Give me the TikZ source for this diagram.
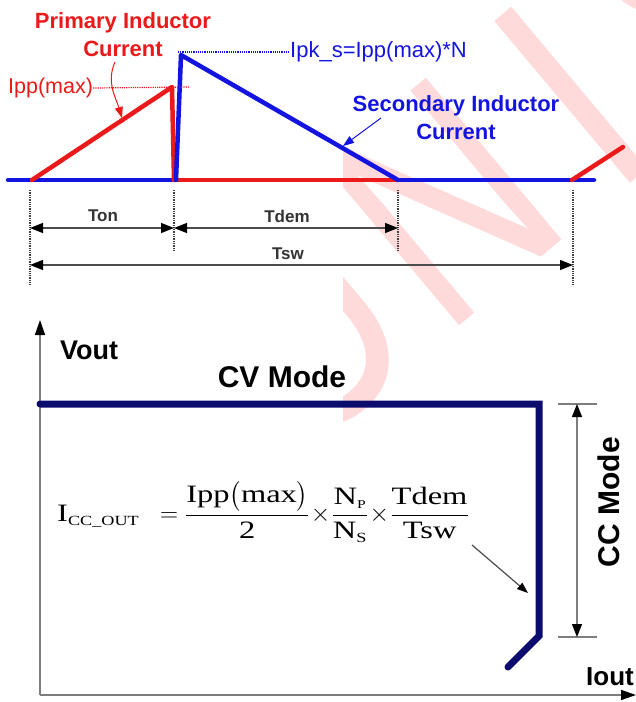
\RequirePackage{fix-cm}
\documentclass[tikz,border=0pt]{standalone}
\usepackage{amsmath}
\usepackage{fontspec}
\setmainfont{Liberation Sans}
\newfontfamily\formfont[FakeStretch=1.3]{Liberation Serif}
\newfontfamily\markfont[FakeStretch=0.78]{Liberation Sans}
\usetikzlibrary{calc, positioning}
\usetikzlibrary{arrows.meta}

\definecolor{pcur}{RGB}{235,25,25}
\definecolor{scur}{RGB}{20,20,225}
\definecolor{cvline}{RGB}{12,12,110}
\definecolor{axisgray}{RGB}{125,125,125}
\definecolor{markpink}{RGB}{255,218,218}

\begin{document}
\begin{tikzpicture}[x=1pt, y=-1pt,
  wave/.style={line width=4.5pt, line cap=round, line join=round},
  guide/.style={densely dotted, line width=1.3pt, black!75},
  dimline/.style={line width=1.4pt, draw=black!70,
    {Triangle[length=13pt,width=10pt,black]}-{Triangle[length=13pt,width=10pt,black]}},
  lbl/.style={inner sep=0pt, font=\bfseries\fontsize{22}{28}\selectfont, align=center},
  dimlbl/.style={inner sep=0pt, font=\bfseries\fontsize{17}{20}\selectfont, text=black!80},
  biglbl/.style={inner sep=0pt, font=\bfseries\fontsize{30}{32}\selectfont}
]
\useasboundingbox (0,0) rectangle (636,702);

% watermark
\begin{scope}
\clip (343,0) rectangle (636,430);
\node[markpink, inner sep=0pt, anchor=base west, rotate=40,
  font=\markfont\fontsize{307}{307}\selectfont] (mark) at (297,463)
  {U\kern20pt N\kern47pt I\kern47pt SONIC};
\end{scope}

\def\basey{180}
\coordinate (L0) at (8,\basey);
\coordinate (T0) at (32,\basey);
\coordinate (PK) at (172,87);
\coordinate (T1) at (174,\basey);
\coordinate (T1s) at (176,\basey);
\coordinate (SP) at (181,55);
\coordinate (T2) at (398,\basey);
\coordinate (T3) at (572,\basey);
\coordinate (BE) at (594,\basey);
\coordinate (RE) at (623,147);

% inductor currents
\draw[wave, scur] (L0) -- (BE);
\draw[wave, pcur] (T1) -- (T2);
\draw[wave, pcur] (T0) -- (PK) -- (T1);
\draw[wave, scur] (T1s) -- (SP) -- (T2);
\draw[wave, pcur] (T3) -- (RE);

\node[lbl, text=pcur] (prim) at (123,35) {Primary Inductor\\Current};
\node[lbl, text=scur] (sec) at (456,118) {Secondary Inductor\\Current};

\coordinate (PA) at (115,62);
\coordinate (PB) at (122,118);
\draw[pcur, line width=1pt, -{Triangle[length=11pt,width=8pt]}]
  (PA) .. controls (106,82) and (116,98) .. (PB);
\coordinate (SA) at (381,118);
\coordinate (SB) at (343,146);
\draw[scur, line width=1pt, -{Triangle[length=11pt,width=8pt]}] (SA) -- (SB);

\node[inner sep=0pt, anchor=west, text=pcur, font=\fontsize{21.5}{24}\selectfont] (ipp) at (8,88) {Ipp(max)};
\coordinate (PKr) at (190,87);
\draw[pcur, densely dotted, line width=1.2pt] (ipp.east) -- (PKr);
\node[inner sep=0pt, anchor=west, text=scur, font=\fontsize{22}{24}\selectfont] (ipk) at (290,52) {Ipk\_s=Ipp(max)*N};
\coordinate (SPl) at (178,52);
\draw[scur, densely dotted, line width=1.2pt] (SPl) -- (ipk.west);

% timing
\coordinate (G0a) at (30,190);   \coordinate (G0b) at (30,285);
\coordinate (G1a) at (174,190);  \coordinate (G1b) at (174,250);
\coordinate (G2a) at (398,190);  \coordinate (G2b) at (398,250);
\coordinate (G3a) at (573,190);  \coordinate (G3b) at (573,285);
\draw[guide] (G0a) -- (G0b);
\draw[guide] (G1a) -- (G1b);
\draw[guide] (G2a) -- (G2b);
\draw[guide] (G3a) -- (G3b);
\draw[dimline] (30,228) -- (174,228);
\draw[dimline] (174,228) -- (398,228);
\draw[dimline] (30,265) -- (573,265);
\node[dimlbl] (ton) at (103,216) {Ton};
\node[dimlbl] (tdem) at (287,216) {Tdem};
\node[dimlbl] (tsw) at (288,254) {Tsw};

% output characteristic
\coordinate (O) at (40,695);
\coordinate (Ytop) at (40,320);
\coordinate (Xend) at (636,695);
\draw[axisgray, line width=1.5pt, -{Triangle[length=15pt,width=10pt,black]}] (O) -- (Ytop);
\draw[axisgray, line width=1.5pt, -{Triangle[length=15pt,width=10pt,black]}] (O) -- (Xend);
\node[biglbl, anchor=west, font=\bfseries\fontsize{27}{30}\selectfont] (vout) at (60,350) {Vout};
\node[biglbl] (cv) at (282,377) {CV Mode};
\node[biglbl, anchor=east, font=\bfseries\fontsize{26}{30}\selectfont] (iout) at (634,677) {Iout};

\coordinate (C0) at (40,404);
\coordinate (C1) at (539,404);
\coordinate (C2) at (539,636);
\coordinate (C3) at (508,667);
\draw[cvline, line width=7pt, line cap=round] (C0) -- (C1) -- (C2) -- (C3);

\coordinate (K0) at (577,404);
\coordinate (K1) at (577,637);
\draw[axisgray, line width=1.3pt] (558,404) -- (597,404);
\draw[axisgray, line width=1.3pt] (558,637) -- (597,637);
\draw[dimline, draw=axisgray] (K0) -- (K1);
\node[biglbl, rotate=90] (cc) at (609,502) {CC Mode};

\node[inner sep=0pt, anchor=west, font=\formfont\fontsize{25}{29}\selectfont] (icc) at (57,512)
  {$\text{I}_{\text{\fontsize{14}{16}\selectfont CC\_OUT}}\;\;=\dfrac{\text{Ipp}\bigl(\text{max}\bigr)}{\text{2}}
   \!\times\!\dfrac{\text{N}_{\text{\fontsize{12}{14}\selectfont P}}}{\text{N}_{\text{\fontsize{14}{16}\selectfont S}}}
   \!\times\!\dfrac{\text{Tdem}}{\text{Tsw}}$};
\coordinate (FA) at (472,545);
\coordinate (FB) at (528,593);
\draw[black!70, line width=1.2pt, -{Triangle[length=11pt,width=8pt,black]}] (FA) -- (FB);
\end{tikzpicture}
\end{document}
